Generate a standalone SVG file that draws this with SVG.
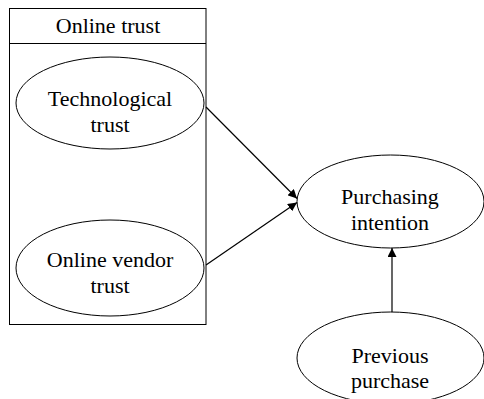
<svg xmlns="http://www.w3.org/2000/svg" width="484" height="399" viewBox="0 0 484 399">
<defs>
<style>
.node{fill:#fff;stroke:#000;stroke-width:1}
.lbl{font-family:'Liberation Serif','Times New Roman',Times,serif;font-size:22px;fill:#000;text-anchor:middle}
.edge{stroke:#000;stroke-width:1.2;fill:none}
</style>
<marker id="ah" viewBox="0 0 10 10" refX="10" refY="5" markerWidth="9" markerHeight="9" markerUnits="userSpaceOnUse" orient="auto">
<path d="M0,0 L10,5 L0,10 z" fill="#000"/>
</marker>
</defs>
<rect width="484" height="399" fill="#fff"/>
<g id="online-trust">
<rect class="node" x="9.5" y="8.5" width="196.5" height="316"/>
<line x1="9.5" y1="43.5" x2="206" y2="43.5" stroke="#000"/>
<text class="lbl" font-family="Liberation Serif, serif" x="108" y="33">Online trust</text>
</g>
<g id="technological-trust">
<ellipse class="node" cx="110" cy="103" rx="94" ry="46"/>
<text class="lbl" font-family="Liberation Serif, serif" x="110" y="106">Technological</text>
<text class="lbl" font-family="Liberation Serif, serif" x="110" y="132">trust</text>
</g>
<g id="online-vendor-trust">
<ellipse class="node" cx="110" cy="268" rx="94" ry="48"/>
<text class="lbl" font-family="Liberation Serif, serif" x="110" y="267">Online vendor</text>
<text class="lbl" font-family="Liberation Serif, serif" x="110" y="293">trust</text>
</g>
<g id="purchasing-intention">
<ellipse class="node" cx="390.5" cy="201.5" rx="93.5" ry="46.5"/>
<text class="lbl" font-family="Liberation Serif, serif" x="390" y="204">Purchasing</text>
<text class="lbl" font-family="Liberation Serif, serif" x="390" y="230">intention</text>
</g>
<g id="previous-purchase">
<ellipse class="node" cx="390.5" cy="358" rx="93.5" ry="46"/>
<text class="lbl" font-family="Liberation Serif, serif" x="390" y="363">Previous</text>
<text class="lbl" font-family="Liberation Serif, serif" x="390" y="388">purchase</text>
</g>
<g id="connectors">
<line class="edge" x1="206" y1="107" x2="297" y2="198.5" marker-end="url(#ah)"/>
<line class="edge" x1="206" y1="265" x2="297" y2="202.5" marker-end="url(#ah)"/>
<line class="edge" x1="392" y1="312" x2="392" y2="248" marker-end="url(#ah)"/>
</g>
</svg>
